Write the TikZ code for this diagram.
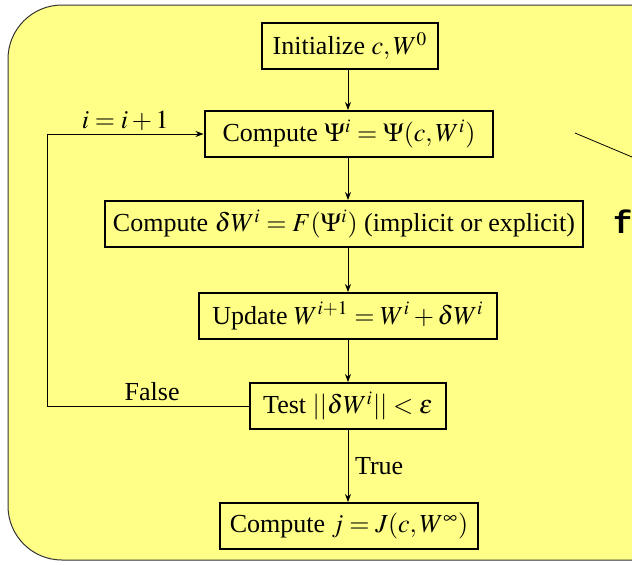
\documentclass[tikz,border=0pt]{standalone}
\usepackage{mathptmx}
\usepackage{fontspec}
\setmainfont{Liberation Serif}
\setmonofont{Liberation Mono}
\usepackage{tikz}
\usetikzlibrary{arrows.meta}

\definecolor{pale}{RGB}{255,255,136}
\tikzset{
  stepbox/.style={draw,line width=1pt,fill=pale,inner xsep=6.5pt,minimum height=23pt},
  flow/.style={-{Stealth[length=4pt,width=3pt]},line width=0.4pt}
}

\begin{document}
\begin{tikzpicture}[x=0.5pt,y=-0.5pt,font=\fontsize{13}{15}\selectfont]
\useasboundingbox (0,0) rectangle (632,564);
% Fond
\draw[fill=pale,draw=black!80,line width=0.5pt,rounded corners=27pt] (8,5) rectangle (720,560);
% Etapes
\node[stepbox,inner xsep=5.5pt] (init) at (350,46) {Initialize $c, W^0$};
\node[stepbox,inner xsep=9pt] (psi) at (349,134) {Compute $\Psi^i=\Psi(c,W^i)$};
\node[stepbox,inner xsep=4pt] (dw) at (344,224) {Compute $\delta W^i=F(\Psi^i)$ (implicit or explicit)};
\node[stepbox] (upd) at (348,316) {Update $W^{i+1}=W^i+\delta W^i$};
\node[stepbox] (test) at (348,406) {Test $||\delta W^i||<\varepsilon$};
\node[stepbox,inner xsep=5pt] (res) at (349,526) {Compute $j=J(c,W^\infty)$};
% Fleches
\coordinate (ax) at (348,0);
\draw[flow] (init.south -| ax) -- (psi.north -| ax);
\draw[flow] (psi.south -| ax) -- (dw.north -| ax);
\draw[flow] (dw.south -| ax) -- (upd.north -| ax);
\draw[flow] (upd.south -| ax) -- (test.north -| ax);
\draw[flow] (test.south -| ax) -- node[right] {True} (res.north -| ax);
% Boucle
\coordinate (lb) at (47,406);
\coordinate (lt) at (47,134);
\draw[flow] (test.west) -- node[above,pos=0.48,yshift=-1pt] {False} (lb) -- (lt) -- node[above,pos=0.5,yshift=-2pt] {$i=i+1$} (psi.west);
% Hors champ
\node[anchor=west,font=\ttfamily\bfseries\fontsize{16}{18}\selectfont] (fx) at (606,222) {f};
\coordinate (ls) at (575,133);
\coordinate (le) at (720,194);
\draw[line width=0.4pt] (ls) -- (le);
\end{tikzpicture}
\end{document}
